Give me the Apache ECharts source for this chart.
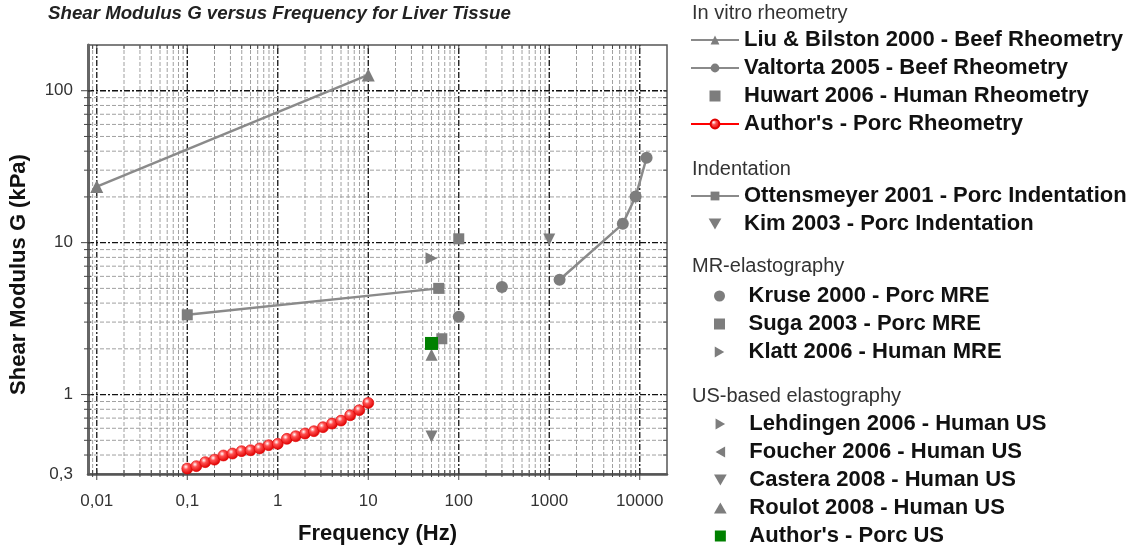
<!DOCTYPE html>
<html><head><meta charset="utf-8">
<script src="https://cdn.jsdelivr.net/npm/echarts@6/dist/echarts.min.js"></script>
<style>html,body{margin:0;padding:0;background:#fff}#c{width:1139px;height:555px}</style>
</head><body><div id="c"></div>
<script>
// ---- data ----
const xTickValues = [0.01, 0.1, 1, 10, 100, 1000, 10000];
const xTickLabels = ['0,01', '0,1', '1', '10', '100', '1000', '10000'];
const yTickValues = [0.3, 1, 10, 100];
const yTickLabels = ['0,3', '1', '10', '100'];

const liuFreq = [0.01, 10];
const liuG = [23.4, 127];
const valtortaFreq = [1300, 6500, 9000, 11900];
const valtortaG = [5.7, 13.3, 20.1, 36.2];
const huwartFreq = [65];
const huwartG = [2.33];
const authorRheoFreq = [0.1, 0.126, 0.158, 0.2, 0.251, 0.316, 0.398, 0.501, 0.631, 0.794, 1, 1.26, 1.58, 2, 2.51, 3.16, 3.98, 5.01, 6.31, 7.94, 10];
const authorRheoG = [0.326, 0.338, 0.359, 0.373, 0.397, 0.409, 0.424, 0.430, 0.442, 0.464, 0.474, 0.511, 0.532, 0.554, 0.574, 0.610, 0.644, 0.674, 0.731, 0.789, 0.881];
const ottensFreq = [0.1, 60];
const ottensG = [3.35, 5.0];
const kimFreq = [1000];
const kimG = [10.5];
const kruseFreq = [100, 300];
const kruseG = [3.25, 5.1];
const sugaFreq = [100];
const sugaG = [10.6];
const klattFreq = [50];
const klattG = [7.9];
const lehdingenFreq = [];
const lehdingenG = [];
const foucherFreq = [];
const foucherG = [];
const casteraFreq = [50];
const casteraG = [0.53];
const roulotFreq = [50];
const roulotG = [1.83];
const authorUSFreq = [50];
const authorUSG = [2.17];

const xMin = 0.008, xMax = 20000, yMin = 0.3, yMax = 200;

// ---- build ----
const F = '"Liberation Sans", Arial, sans-serif';
const zip = (a, b) => a.map((v, i) => [v, b[i]]);
function gridValues(lo, hi) {
  const out = [];
  for (let d = -4; d <= 5; d++) for (let k = 1; k <= 9; k++) {
    const v = +(k * Math.pow(10, d)).toPrecision(6);
    if (v > lo * 1.0001 && v < hi * 0.9999) out.push([v, k === 1 ? 1 : 0]);
  }
  return out;
}
function fmt(values, labels) {
  return function (v) {
    for (let i = 0; i < values.length; i++) if (Math.abs(v - values[i]) / values[i] < 1e-6) return labels[i];
    return '';
  };
}
const majorStyle = { stroke: '#111', lineWidth: 1.3, lineDash: [6, 2, 2, 2] };
const minorStyle = { stroke: '#a0a0a0', lineWidth: 1, lineDash: [4, 2] };
const tickStyle = { stroke: '#444', lineWidth: 1 };

const vGrid = {
  type: 'custom', silent: true, z: 1, clip: false,
  data: gridValues(xMin, xMax).map(([v, m]) => [v, 1, m]),
  encode: { x: 0, y: 1 },
  renderItem: (p, api) => {
    const v = api.value(0), m = api.value(2);
    const a = api.coord([v, yMin]), b = api.coord([v, yMax]);
    return { type: 'group', children: [
      { type: 'line', shape: { x1: a[0], y1: a[1], x2: b[0], y2: b[1] }, style: m ? majorStyle : minorStyle },
      { type: 'line', shape: { x1: a[0], y1: a[1] - 4, x2: a[0], y2: a[1] + (m ? 6 : 3) }, style: tickStyle },
      { type: 'line', shape: { x1: b[0], y1: b[1], x2: b[0], y2: b[1] + 4 }, style: tickStyle }
    ] };
  }
};
const hGrid = {
  type: 'custom', silent: true, z: 1, clip: false,
  data: gridValues(yMin, yMax).map(([v, m]) => [1, v, m]),
  encode: { x: 0, y: 1 },
  renderItem: (p, api) => {
    const v = api.value(1), m = api.value(2);
    const a = api.coord([xMin, v]), b = api.coord([xMax, v]);
    return { type: 'group', children: [
      { type: 'line', shape: { x1: a[0], y1: a[1], x2: b[0], y2: b[1] }, style: m ? majorStyle : minorStyle },
      { type: 'line', shape: { x1: a[0] - (m ? 7 : 4), y1: a[1], x2: a[0] + 3, y2: a[1] }, style: tickStyle },
      { type: 'line', shape: { x1: b[0] - 4, y1: b[1], x2: b[0], y2: b[1] }, style: tickStyle }
    ] };
  }
};

const GRAY = '#7d7d7d', LINEGRAY = '#8a8a8a';
function lineSeries(name, fx, gy, symbol, size) {
  return { name, type: 'line', z: 3, data: zip(fx, gy), symbol, symbolSize: size,
    itemStyle: { color: GRAY }, lineStyle: { color: LINEGRAY, width: 2.5 } };
}
function scatterSeries(name, fx, gy, symbol, size, rotate, color) {
  return { name, type: 'scatter', z: 4, data: zip(fx, gy), symbol, symbolSize: size,
    symbolRotate: rotate || 0, itemStyle: { color: color || GRAY, opacity: 1 } };
}
const redBall = { type: 'radial', x: 0.38, y: 0.35, r: 0.65,
  colorStops: [{ offset: 0, color: '#ffffff' }, { offset: 0.35, color: '#ff5050' }, { offset: 1, color: '#e00000' }] };

const series = [
  vGrid, hGrid,
  lineSeries('Liu & Bilston 2000 - Beef Rheometry', liuFreq, liuG, 'triangle', 13),
  lineSeries('Valtorta 2005 - Beef Rheometry', valtortaFreq, valtortaG, 'circle', 12),
  scatterSeries('Huwart 2006 - Human Rheometry', huwartFreq, huwartG, 'rect', 11),
  { name: "Author's - Porc Rheometry", type: 'line', z: 5, data: zip(authorRheoFreq, authorRheoG),
    symbol: 'circle', symbolSize: 11, itemStyle: { color: redBall, borderColor: '#e00000', borderWidth: 0.6 },
    lineStyle: { color: '#ff0000', width: 1.5 } },
  lineSeries('Ottensmeyer 2001 - Porc Indentation', ottensFreq, ottensG, 'rect', 11),
  scatterSeries('Kim 2003 - Porc Indentation', kimFreq, kimG, 'triangle', 12, 180),
  scatterSeries('Kruse 2000 - Porc MRE', kruseFreq, kruseG, 'circle', 12),
  scatterSeries('Suga 2003 - Porc MRE', sugaFreq, sugaG, 'rect', 11),
  scatterSeries('Klatt 2006 - Human MRE', klattFreq, klattG, 'triangle', 12, -90),
  scatterSeries('Lehdingen 2006 - Human US', lehdingenFreq, lehdingenG, 'triangle', 12, -90),
  scatterSeries('Foucher 2006 - Human US', foucherFreq, foucherG, 'triangle', 12, 90),
  scatterSeries('Castera 2008 - Human US', casteraFreq, casteraG, 'triangle', 12, 180),
  scatterSeries('Roulot 2008 - Human US', roulotFreq, roulotG, 'triangle', 12),
  Object.assign(scatterSeries("Author's - Porc US", authorUSFreq, authorUSG, 'rect', 13, 0, '#008000'), { z: 6 })
];

// legend icons for marker-only entries (kept square)
const IC = {
  sq: 'path://M0,0H10V10H0Z',
  ci: 'path://M5,0A5,5,0,1,1,4.99,0Z',
  up: 'path://M5,0L10,8.66L0,8.66Z',
  dn: 'path://M0,0L10,0L5,8.66Z',
  rt: 'path://M0,0L8.66,5L0,10Z',
  lf: 'path://M8.66,0L0,5L8.66,10Z'
};
const legendText = { fontFamily: F, fontSize: 22, fontWeight: 'bold', color: '#111', lineHeight: 22 };
function legend(left, top, items) {
  return { left, top, orient: 'vertical', padding: 0, itemWidth: 48, itemHeight: 11, itemGap: 6,
    selectedMode: false, textStyle: legendText,
    data: items.map(it => typeof it === 'string' ? it : { name: it[0], icon: it[1], itemStyle: { color: it[2] || GRAY, opacity: 1 } }) };
}
function header(y, text) {
  return { type: 'text', x: 692, y, style: { text, fill: '#333', font: '20px ' + F, verticalAlign: 'middle' } };
}

const option = {
  animation: false,
  backgroundColor: '#fff',
  title: { text: 'Shear Modulus G versus Frequency for Liver Tissue', left: 48, top: 4, padding: 0,
    textStyle: { fontFamily: F, fontSize: 18.7, fontStyle: 'italic', fontWeight: 'bold', color: '#222' } },
  grid: { left: 86, right: 472, top: 45, bottom: 81, show: true, borderColor: '#555', borderWidth: 1.5 },
  xAxis: { type: 'log', logBase: 10, min: xMin, max: xMax,
    axisLine: { show: true, onZero: false, lineStyle: { color: '#555', width: 2.5 } },
    axisTick: { show: false }, splitLine: { show: false },
    axisLabel: { formatter: fmt(xTickValues, xTickLabels), margin: 19, fontSize: 17, color: '#333', fontFamily: F },
    name: 'Frequency (Hz)', nameLocation: 'middle', nameGap: 49,
    nameTextStyle: { fontFamily: F, fontSize: 22, fontWeight: 'bold', color: '#111' } },
  yAxis: { type: 'log', logBase: 10, min: yMin, max: yMax,
    axisLine: { show: true, onZero: false, lineStyle: { color: '#666', width: 3 } },
    axisTick: { show: false }, splitLine: { show: false },
    axisLabel: { formatter: fmt(yTickValues, yTickLabels), margin: 15, fontSize: 17, color: '#333', fontFamily: F },
    name: 'Shear Modulus G (kPa)', nameLocation: 'middle', nameGap: 58,
    nameTextStyle: { fontFamily: F, fontSize: 22, fontWeight: 'bold', color: '#111', padding: [0, 30, 0, 0] } },
  legend: [
    legend(690, 29, ['Liu & Bilston 2000 - Beef Rheometry', 'Valtorta 2005 - Beef Rheometry',
      ['Huwart 2006 - Human Rheometry', IC.sq], "Author's - Porc Rheometry"]),
    legend(690, 185, ['Ottensmeyer 2001 - Porc Indentation', ['Kim 2003 - Porc Indentation', IC.dn]]),
    legend(714, 285, [['Kruse 2000 - Porc MRE', IC.ci], ['Suga 2003 - Porc MRE', IC.sq], ['Klatt 2006 - Human MRE', IC.rt]]),
    legend(714, 413, [['Lehdingen 2006 - Human US', IC.rt], ['Foucher 2006 - Human US', IC.lf], ['Castera 2008 - Human US', IC.dn],
      ['Roulot 2008 - Human US', IC.up], ["Author's - Porc US", IC.sq, '#008000']])
  ],
  graphic: [
    header(13, 'In vitro rheometry'),
    header(169, 'Indentation'),
    header(266, 'MR-elastography'),
    header(396, 'US-based elastography')
  ],
  series
};
const chart = echarts.init(document.getElementById('c'), null, { renderer: 'canvas' });
chart.setOption(option);
</script>
</body></html>
